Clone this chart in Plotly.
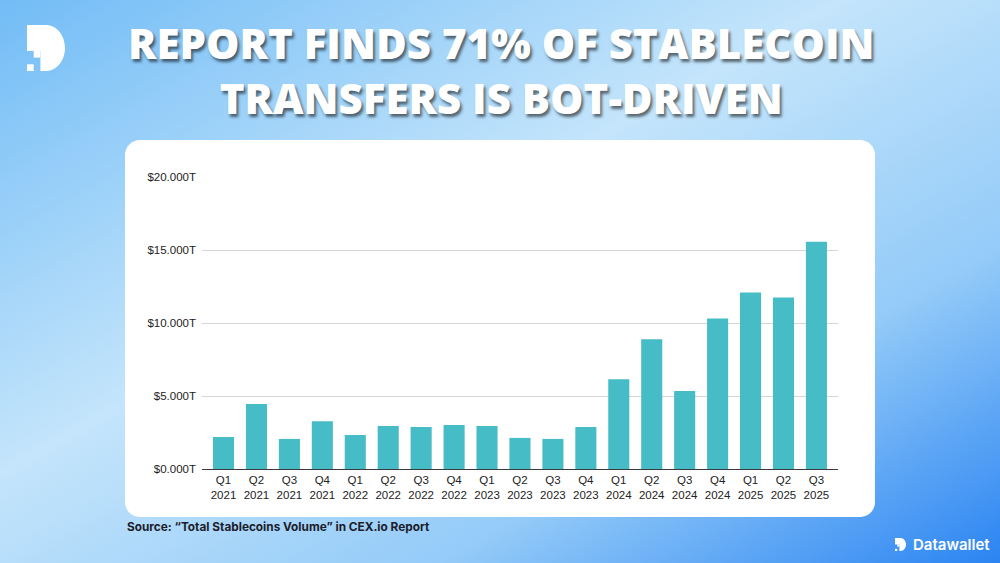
import base64
import plotly.graph_objects as go

# ---------------- data ----------------
quarters = ["Q1", "Q2", "Q3", "Q4", "Q1", "Q2", "Q3", "Q4", "Q1", "Q2", "Q3", "Q4",
            "Q1", "Q2", "Q3", "Q4", "Q1", "Q2", "Q3"]
years = ["2021", "2021", "2021", "2021", "2022", "2022", "2022", "2022",
         "2023", "2023", "2023", "2023", "2024", "2024", "2024", "2024",
         "2025", "2025", "2025"]
volume_trillions = [2.19, 4.46, 2.06, 3.27, 2.33, 2.95, 2.88, 3.02, 2.95, 2.13,
                    2.06, 2.88, 6.15, 8.89, 5.35, 10.31, 12.09, 11.75, 15.57]
y_ticks = [0, 5, 10, 15, 20]
y_tick_labels = ["$0.000T", "$5.000T", "$10.000T", "$15.000T", "$20.000T"]

title_lines = ["REPORT FINDS 71% OF STABLECOIN", "TRANSFERS IS BOT-DRIVEN"]
source_text = "Source: \u201cTotal Stablecoins Volume\u201d in CEX.io Report"
brand_text = "Datawallet"

categories = [f"{q}<br>{y}" for q, y in zip(quarters, years)]

# ---------------- layout geometry (pixels) ----------------
W, H = 1000, 563
PL, PR, PT, PB = 202, 838, 177, 469  # plot area box
pw, ph = PR - PL, PB - PT


def px(x):
    return (x - PL) / pw


def py(y):
    return (PB - y) / ph


def pt(x, y):
    return f"{px(x):.5f},{py(y):.5f}"


def rounded_rect(x0, y0, x1, y1, r):
    k = 0.5523 * r
    return (f"M{pt(x0 + r, y0)} L{pt(x1 - r, y0)} "
            f"C{pt(x1 - r + k, y0)} {pt(x1, y0 + r - k)} {pt(x1, y0 + r)} "
            f"L{pt(x1, y1 - r)} "
            f"C{pt(x1, y1 - r + k)} {pt(x1 - r + k, y1)} {pt(x1 - r, y1)} "
            f"L{pt(x0 + r, y1)} "
            f"C{pt(x0 + r - k, y1)} {pt(x0, y1 - r + k)} {pt(x0, y1 - r)} "
            f"L{pt(x0, y0 + r)} "
            f"C{pt(x0, y0 + r - k)} {pt(x0 + r - k, y0)} {pt(x0 + r, y0)} Z")


def rect_path(x0, y0, x1, y1):
    return f"M{pt(x0, y0)} L{pt(x1, y0)} L{pt(x1, y1)} L{pt(x0, y1)} Z"


def d_logo(x0, y0, w, h, step):
    xm = x0 + 2 * step
    xr = x0 + w
    yc = y0 + h / 2
    rx = w * 0.5
    k = 0.5523
    xs = xr - rx
    p = (f"M{pt(x0, y0)} L{pt(xs, y0)} "
         f"C{pt(xs + rx * k, y0)} {pt(xr, yc - h / 2 * k)} {pt(xr, yc)} "
         f"C{pt(xr, yc + h / 2 * k)} {pt(xs + rx * k, y0 + h)} {pt(xs, y0 + h)} "
         f"L{pt(xm, y0 + h)} L{pt(xm, y0 + h - 3 * step)} L{pt(x0, y0 + h - 3 * step)} Z")
    sq1 = rect_path(x0 + step, y0 + h - 3 * step, xm, y0 + h - 2 * step)
    sq2 = rect_path(x0, y0 + h - step, x0 + step, y0 + h)
    return [p, sq1, sq2]


svg = (f"<svg xmlns='http://www.w3.org/2000/svg' width='{W}' height='{H}'>"
       "<defs><linearGradient id='g' x1='0' y1='0' x2='1' y2='1'>"
       "<stop offset='0' stop-color='#72bcf6'/>"
       "<stop offset='0.42' stop-color='#c4e5fb'/>"
       "<stop offset='0.72' stop-color='#94cbf8'/>"
       "<stop offset='1' stop-color='#2b84f2'/>"
       "</linearGradient></defs>"
       f"<rect width='{W}' height='{H}' fill='url(#g)'/></svg>")
svg_uri = "data:image/svg+xml;base64," + base64.b64encode(svg.encode()).decode()

fig = go.Figure()
fig.add_trace(go.Bar(
    x=categories, y=volume_trillions,
    marker=dict(color="#46bdc6", line=dict(width=0)),
    hovertemplate="%{x}: $%{y:.3f}T<extra></extra>",
))

shapes = []
shapes.append(dict(type="path", xref="paper", yref="paper", layer="below",
                   path=rounded_rect(125, 140, 875, 517, 15),
                   fillcolor="white", line=dict(width=0)))
for p in d_logo(27, 25, 38, 46, 6.7):
    shapes.append(dict(type="path", xref="paper", yref="paper", layer="above",
                       path=p, fillcolor="white", line=dict(width=0)))
for p in d_logo(895, 538, 11, 13, 2.2):
    shapes.append(dict(type="path", xref="paper", yref="paper", layer="above",
                       path=p, fillcolor="white", line=dict(width=0)))

title_font = dict(family="Open Sans", size=42, weight=800, color="white",
                  shadow="2px 3px 3px rgba(0,0,0,0.55)")
annotations = [
    dict(text="<br>".join(title_lines), x=px(501), y=py(70.5), xref="paper", yref="paper",
         xanchor="center", yanchor="middle", showarrow=False, align="center",
         font=title_font),
    dict(text=source_text, x=px(125), y=py(527), xref="paper", yref="paper",
         xanchor="left", yanchor="middle", showarrow=False,
         font=dict(family="Inter", size=11.8, weight=700, color="#1c1c2a")),
    dict(text=brand_text, x=px(911), y=py(544), xref="paper", yref="paper",
         xanchor="left", yanchor="middle", showarrow=False,
         font=dict(family="Inter", size=15, weight=600, color="white")),
]

fig.update_layout(
    width=W, height=H, autosize=False,
    margin=dict(l=PL, r=W - PR, t=PT, b=H - PB, pad=0),
    paper_bgcolor="#9fd2f8",
    plot_bgcolor="rgba(0,0,0,0)",
    showlegend=False,
    bargap=0.36,
    images=[dict(source=svg_uri, xref="paper", yref="paper",
                 x=px(0), y=py(0), sizex=W / pw, sizey=H / ph,
                 sizing="stretch", xanchor="left", yanchor="top", layer="below")],
    shapes=shapes,
    annotations=annotations,
    xaxis=dict(
        type="category", range=[-0.653, 18.655],
        showgrid=False, showline=True, linecolor="#3a3a3a", linewidth=1,
        ticks="", tickfont=dict(family="Liberation Sans, Arial", size=11.5, color="#222222"),
        fixedrange=True,
    ),
    yaxis=dict(
        range=[0, 20], tickmode="array", tickvals=y_ticks, ticktext=y_tick_labels,
        showgrid=True, gridcolor="#d6d6d6", gridwidth=1,
        zeroline=False, showline=False, ticks="",
        ticklabelstandoff=5,
        tickfont=dict(family="Liberation Sans, Arial", size=11.5, color="#222222"),
        fixedrange=True,
    ),
)

fig.write_html("out.html",
               config={"displayModeBar": False, "staticPlot": False},
               post_script="document.body.style.margin='0';document.body.style.overflow='hidden';")
